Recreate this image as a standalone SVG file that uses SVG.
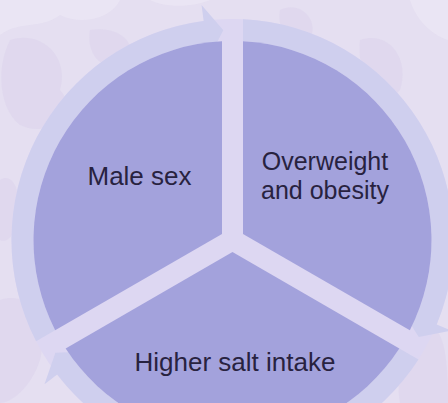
<svg xmlns="http://www.w3.org/2000/svg" width="448" height="403" viewBox="0 0 448 403">
<style>
.sector{fill:#a3a2dc}
.arrow{fill:#cfcfee}
.lbl{font-family:"Liberation Sans",Arial,sans-serif;font-size:26px;fill:#282240;text-anchor:middle}
.sm{font-size:25px}
.blot{fill:#d9d0ea;opacity:0.45}
.blot2{fill:#f0ecf8;opacity:0.5}
</style>
<rect width="448" height="403" fill="#e5dff1"/>
<g id="texture">
<path class="blot2" d="M0,0 H120 C110,20 80,25 60,15 C40,30 20,20 0,35 Z"/>
<path class="blot" d="M10,40 C40,30 70,55 60,90 C80,110 50,140 20,125 C0,110 -5,70 10,40 Z"/>
<path class="blot" d="M90,30 C120,25 140,45 125,60 C110,75 85,60 90,30 Z"/>
<path class="blot" d="M0,300 C30,290 50,320 40,360 C30,390 10,403 0,403 Z"/>
<path class="blot" d="M280,10 C300,0 320,20 310,40 C300,55 275,35 280,10 Z"/>
<path class="blot" d="M360,40 C390,30 410,60 400,90 C385,110 355,80 360,40 Z"/>
<path class="blot2" d="M410,0 H448 V40 C432,35 416,20 410,0 Z"/>
<path class="blot" d="M420,330 C440,320 448,340 448,403 H400 C395,380 405,345 420,330 Z"/>
<path class="blot" d="M0,180 C15,170 25,200 15,230 C8,245 0,240 0,240 Z"/>
<path class="blot2" d="M150,0 C170,10 200,5 210,0 Z"/>
</g>
<circle cx="232.5" cy="240" r="221" fill="#ddd7f2"/>
<g id="connectors">
<path class="arrow" d="M36.08,341.28 A221,221 0 0,1 203.65,20.89 L201.56,5.03 L223.34,30.2 L208.61,58.57 L206.52,42.7 A199,199 0 0,0 55.15,330.27 Z"/>
<path class="arrow" d="M243,19.26 A221,221 0 0,1 436.68,324.57 L451.46,330.7 L418.77,336.97 L401.57,310.03 L416.35,316.15 A199,199 0 0,0 243,41.28 Z"/>
<path class="arrow" d="M418.42,359.46 A221,221 0 0,1 57.17,374.54 L44.48,384.28 L55.39,352.83 L87.32,351.4 L74.62,361.14 A199,199 0 0,0 399.35,348.45 Z"/>
</g>
<g id="node-male-sex">
<path class="sector" d="M222,234 L222,41.28 A199,199 0 0,0 55.15,330.27 Z"/>
<text class="lbl" x="139.5" y="185">Male sex</text>
</g>
<g id="node-overweight">
<path class="sector" d="M243,234 L243,41.28 A199,199 0 0,1 409.85,330.27 Z"/>
<text class="lbl sm" x="325" y="170">Overweight</text>
<text class="lbl sm" x="325" y="199">and obesity</text>
</g>
<g id="node-salt">
<path class="sector" d="M232.5,252.12 L65.65,348.45 A199,199 0 0,0 399.35,348.45 Z"/>
<text class="lbl" x="235" y="371">Higher salt intake</text>
</g>
</svg>
